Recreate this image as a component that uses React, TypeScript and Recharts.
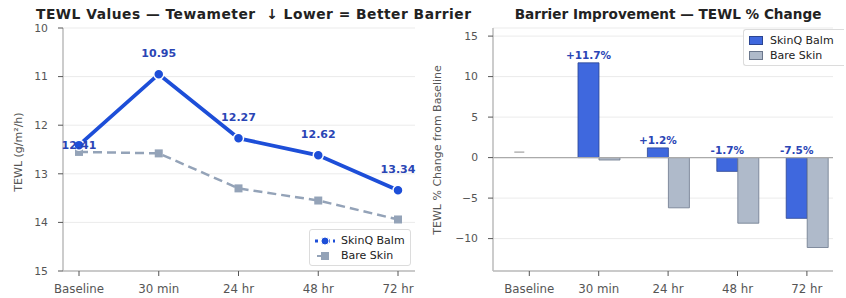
import React from "react";
import {
  Bar,
  BarChart,
  CartesianGrid,
  LabelList,
  Line,
  LineChart,
  ReferenceDot,
  ReferenceLine,
  XAxis,
  YAxis,
} from "recharts";

const timepoints = ["Baseline", "30 min", "24 hr", "48 hr", "72 hr"];
const skinqTewl = [12.41, 10.95, 12.27, 12.62, 13.34];
const bareTewl = [12.55, 12.58, 13.3, 13.55, 13.94];
const skinqChange = [0, 11.7, 1.2, -1.7, -7.5];
const bareChange = [0, -0.3, -6.2, -8.1, -11.1];
const tewlTicks = [10, 11, 12, 13, 14, 15];
const changeTicks = [-10, -5, 0, 5, 10, 15];

const FONT = "'DejaVu Sans', sans-serif";
const BLUE = "#1d4ed8";
const BLUE_LABEL = "#2a45b5";
const GREY = "#94a3b8";
const XTICK = { fill: "#555", fontSize: 11.8, fontFamily: FONT };
const YTICK = { fill: "#555", fontSize: 10.8, fontFamily: FONT };

const lineData = timepoints.map((t, i) => ({ t, skinq: skinqTewl[i], bare: bareTewl[i] }));
const barData = timepoints.map((t, i) => ({ idx: i, t, skinq: skinqChange[i], bare: bareChange[i] }));

const SquareDot = (props: any) => {
  const { cx, cy, index } = props;
  return <rect key={`sq-${index}`} x={cx - 4} y={cy - 4} width={8} height={8} fill={GREY} />;
};

const LineLabel = (props: any) => {
  const { x, y, value, index } = props;
  // baseline label sits on the point, the rest above it
  const dy = index === 0 ? 4 : -17;
  return (
    <text x={x} y={y + dy} textAnchor="middle" fill={BLUE_LABEL} fontSize={11} fontWeight="bold" fontFamily={FONT}>
      {Number(value).toFixed(2)}
    </text>
  );
};

const BarLabel = (props: any) => {
  const { x, y, width, height, value } = props;
  const top = Math.min(y, y + height);
  const txt = `${value > 0 ? "+" : ""}${Number(value).toFixed(1)}%`;
  return (
    <text x={x + width / 2} y={top - 4} textAnchor="middle" fill={BLUE_LABEL} fontSize={10.5} fontWeight="bold" fontFamily={FONT}>
      {txt}
    </text>
  );
};

// zero-height baseline bar gets a grey dash instead of a label
const ZeroMark = (props: any) => {
  const { cx, cy } = props;
  return <line x1={cx - 15} x2={cx - 5} y1={cy - 5.5} y2={cy - 5.5} stroke="#a0a0a0" strokeWidth={1.2} />;
};

const legendBox: React.CSSProperties = {
  position: "absolute",
  border: "1px solid #dcdcdc",
  borderRadius: 3,
  background: "rgba(255,255,255,0.85)",
  padding: "3px 5px 2px 5px",
  fontFamily: FONT,
  fontSize: 11,
  color: "#222",
  lineHeight: "15px",
};

const row: React.CSSProperties = { display: "flex", alignItems: "center", gap: 6, whiteSpace: "nowrap" };

export default function App() {
  return (
    <div style={{ position: "absolute", left: 0, top: 0, width: 846, height: 298, background: "#fff", overflow: "hidden" }}>
      <div style={{ position: "absolute", left: 0, top: 0 }}>
        <LineChart width={430} height={298} data={lineData} margin={{ top: 28, right: 15, bottom: 0, left: 0 }}>
          <CartesianGrid vertical={false} stroke="#ebebeb" />
          <XAxis
            dataKey="t"
            interval={0}
            padding={{ left: 16, right: 17 }}
            height={27}
            tick={XTICK}
            tickSize={5}
            tickMargin={9}
            tickLine={{ stroke: "#555" }}
            axisLine={{ stroke: "#bbb", strokeWidth: 1.5 }}
          />
          <YAxis
            reversed
            domain={[10, 15]}
            ticks={tewlTicks}
            width={63}
            tick={YTICK}
            tickSize={5}
            tickMargin={10}
            tickLine={{ stroke: "#555" }}
            axisLine={{ stroke: "#bbb", strokeWidth: 1.5 }}
          />
          <Line
            dataKey="bare"
            stroke={GREY}
            strokeWidth={2.5}
            strokeDasharray="9 5"
            dot={SquareDot}
            activeDot={false}
            isAnimationActive={false}
          />
          <Line
            dataKey="skinq"
            stroke={BLUE}
            strokeWidth={3.8}
            dot={{ r: 5, fill: BLUE, stroke: "#fff", strokeWidth: 1.5 }}
            activeDot={false}
            isAnimationActive={false}
          >
            <LabelList dataKey="skinq" content={LineLabel} />
          </Line>
        </LineChart>
      </div>

      <div style={{ position: "absolute", left: 420, top: 0 }}>
        <BarChart width={426} height={298} data={barData} margin={{ top: 28, right: 13, bottom: 0, left: 0 }} barGap={0}>
          <CartesianGrid vertical={false} stroke="#ebebeb" />
          <XAxis
            type="number"
            dataKey="idx"
            domain={[-0.523, 4.376]}
            ticks={[0, 1, 2, 3, 4]}
            allowDataOverflow
            tickFormatter={(v: number) => timepoints[v] ?? ""}
            height={27}
            tick={XTICK}
            tickSize={5}
            tickMargin={9}
            tickLine={{ stroke: "#555" }}
            axisLine={{ stroke: "#bbb", strokeWidth: 1.5 }}
          />
          <YAxis
            domain={[-14, 16]}
            ticks={changeTicks}
            allowDataOverflow
            width={73}
            tickFormatter={(v: number) => (v < 0 ? `\u2212${Math.abs(v)}` : String(v))}
            tick={YTICK}
            tickSize={5}
            tickMargin={10}
            tickLine={{ stroke: "#555" }}
            axisLine={{ stroke: "#bbb", strokeWidth: 1.5 }}
          />
          <ReferenceLine y={0} stroke="#aaa" strokeWidth={1.2} />
          <Bar dataKey="skinq" fill="#3f68de" stroke="#2b4592" strokeWidth={0.8} barSize={21} isAnimationActive={false}>
            <LabelList dataKey="skinq" content={BarLabel} />
          </Bar>
          <Bar dataKey="bare" fill="#afbaca" stroke="#6b778c" strokeWidth={0.8} barSize={21} isAnimationActive={false} />
          <ReferenceDot x={0} y={skinqChange[0]} shape={ZeroMark} />
        </BarChart>
      </div>

      <div style={{ ...legendBox, left: 309, top: 229 }}>
        <div style={row}>
          <svg width={20} height={10}>
            <line x1={0} y1={5} x2={20} y2={5} stroke={BLUE} strokeWidth={3} strokeDasharray="3 3" />
            <circle cx={10} cy={5} r={4} fill={BLUE} stroke="#fff" strokeWidth={1} />
          </svg>
          SkinQ Balm
        </div>
        <div style={row}>
          <svg width={20} height={10}>
            <line x1={2} y1={5} x2={6} y2={5} stroke={GREY} strokeWidth={2} />
            <rect x={6} y={1} width={8} height={8} fill={GREY} />
          </svg>
          Bare Skin
        </div>
      </div>

      <div style={{ ...legendBox, left: 743, top: 29, borderRight: "none", borderRadius: "3px 0 0 3px", paddingRight: 10 }}>
        <div style={{ ...row, gap: 7 }}>
          <svg width={14} height={10}>
            <rect x={0.5} y={0.5} width={13} height={8} fill="#3f68de" stroke="#2b4592" />
          </svg>
          SkinQ Balm
        </div>
        <div style={{ ...row, gap: 7 }}>
          <svg width={14} height={10}>
            <rect x={0.5} y={0.5} width={13} height={8} fill="#afbaca" stroke="#6b778c" />
          </svg>
          Bare Skin
        </div>
      </div>

      <svg width={846} height={298} style={{ position: "absolute", left: 0, top: 0, pointerEvents: "none" }}>
        <text x={36} y={19} textLength={435} lengthAdjust="spacing" fontFamily={FONT} fontSize={13.8} fontWeight="bold" fill="#222" style={{ whiteSpace: "pre" }}>
          {"TEWL Values — Tewameter  ↓ Lower = Better Barrier"}
        </text>
        <text x={668} y={19} textAnchor="middle" fontFamily={FONT} fontSize={13.6} fontWeight="bold" fill="#222">
          Barrier Improvement — TEWL % Change
        </text>
        <text x={22} y={152} transform="rotate(-90 22 152)" textAnchor="middle" fontFamily={FONT} fontSize={11} fill="#555">
          TEWL (g/m²/h)
        </text>
        <text x={441} y={150} transform="rotate(-90 441 150)" textAnchor="middle" fontFamily={FONT} fontSize={11} fill="#555">
          TEWL % Change from Baseline
        </text>
      </svg>
    </div>
  );
}
